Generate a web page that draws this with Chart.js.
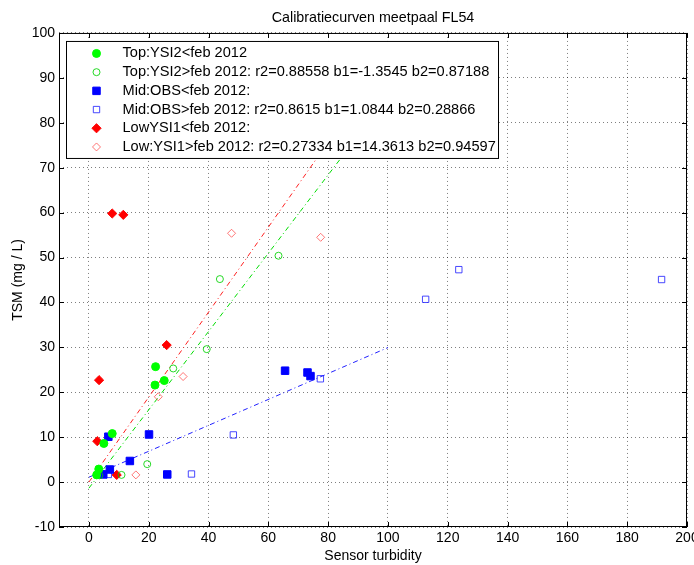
<!DOCTYPE html>
<html>
<head>
<meta charset="utf-8">
<title>Calibratiecurven meetpaal FL54</title>
<script src="https://cdn.jsdelivr.net/npm/chart.js@4/dist/chart.umd.min.js"></script>
<style>
  html, body { margin: 0; padding: 0; background: #fff; }
</style>
</head>
<body>
<canvas id="chartCal" width="694" height="565"></canvas>
<script>
// Metingen voor feb 2012 (gevuld) en na feb 2012 (open)
const topVoorX = [2.6, 3.3, 5.0, 7.8, 22.1, 22.3, 25.2];
const topVoorY = [1.6, 2.9, 8.6, 10.8, 21.6, 25.7, 22.6];
const topNaX = [3.5, 10.9, 19.5, 28.2, 39.4, 43.8, 63.4];
const topNaY = [1.5, 1.6, 4.0, 25.3, 29.6, 45.2, 50.4];

const midVoorX = [4.8, 6.5, 7.0, 13.7, 20.1, 26.2, 65.6, 73.1, 74.1];
const midVoorY = [1.7, 10.1, 2.8, 4.7, 10.6, 1.7, 24.8, 24.4, 23.6];
const midNaX = [6.5, 34.3, 48.3, 77.4, 112.6, 123.7, 191.5];
const midNaY = [1.7, 1.8, 10.5, 23.0, 40.7, 47.3, 45.1];

const lowVoorX = [2.8, 3.4, 7.8, 9.3, 11.5, 26.0];
const lowVoorY = [9.1, 22.7, 59.8, 1.6, 59.5, 30.5];
const lowNaX = [15.7, 23.2, 31.5, 47.7, 77.5];
const lowNaY = [1.6, 19.0, 23.5, 55.4, 54.5];

// Regressielijnen: [b1, b2] en bereik van de sensorwaarde
const fitTop = [-1.3545, 0.87188];
const fitMid = [1.0844, 0.28866];
const fitLow = [0.0, 0.94597];
const fitBereik = [0, 100];

// Aslabels
const xTicks = [0, 20, 40, 60, 80, 100, 120, 140, 160, 180, 200];
const yTicks = [-10, 0, 10, 20, 30, 40, 50, 60, 70, 80, 90, 100];

const legendaTeksten = [
    'Top:YSI2<feb 2012',
    'Top:YSI2>feb 2012: r2=0.88558 b1=-1.3545 b2=0.87188',
    'Mid:OBS<feb 2012:',
    'Mid:OBS>feb 2012: r2=0.8615 b1=1.0844 b2=0.28866',
    'LowYSI1<feb 2012:',
    'Low:YSI1>feb 2012: r2=0.27334 b1=14.3613 b2=0.94597'
];

const FONT = '"Liberation Sans", Arial, Helvetica, sans-serif';

const punten = (xs, ys) => xs.map((x, i) => ({ x: x, y: ys[i] }));
const lijn = c => fitBereik.map(x => ({ x: x, y: c[0] + c[1] * x }));

function reeks(label, xs, ys, stijl, kleur, r, gevuld) {
    return {
        label: label,
        data: punten(xs, ys),
        pointStyle: stijl,
        pointRadius: r,
        pointHoverRadius: r,
        pointBorderWidth: 1,
        pointBorderColor: kleur,
        pointBackgroundColor: gevuld ? kleur : 'rgba(0,0,0,0)',
        showLine: false
    };
}

function fitLijn(c, kleur) {
    return {
        label: '',
        data: lijn(c),
        showLine: true,
        pointRadius: 0,
        borderColor: kleur,
        borderWidth: 1,
        borderDash: [5, 3, 1, 3]
    };
}

// Kader, tickstreepjes en legenda met witte achtergrond
const kaderPlugin = {
    id: 'kader',
    afterDraw(chart) {
        const { ctx, chartArea: a, scales: { x, y } } = chart;
        ctx.save();
        ctx.strokeStyle = '#000';
        ctx.lineWidth = 1;
        ctx.beginPath();
        xTicks.forEach(v => {
            const px = Math.round(x.getPixelForValue(v)) + 0.5;
            ctx.moveTo(px, a.bottom); ctx.lineTo(px, a.bottom - 5);
            ctx.moveTo(px, a.top); ctx.lineTo(px, a.top + 5);
        });
        yTicks.forEach(v => {
            const py = Math.round(y.getPixelForValue(v)) + 0.5;
            ctx.moveTo(a.left, py); ctx.lineTo(a.left + 5, py);
            ctx.moveTo(a.right, py); ctx.lineTo(a.right - 5, py);
        });
        ctx.stroke();
        ctx.strokeRect(a.left + 0.5, a.top + 0.5, a.right - a.left - 1, a.bottom - a.top - 1);

        // legenda
        const lx = a.left + 7.5, ly = a.top + 8.5, lw = 432, lh = 117;
        ctx.fillStyle = '#fff';
        ctx.fillRect(lx, ly, lw, lh);
        ctx.strokeRect(lx, ly, lw, lh);
        ctx.font = '14.6px ' + FONT;
        ctx.textBaseline = 'middle';
        ctx.textAlign = 'left';
        const sets = chart.data.datasets.filter(d => d.label);
        sets.forEach((d, i) => {
            const cy = ly + 12 + i * 18.7;
            const cx = lx + 30;
            tekenMarker(ctx, d, cx, cy);
            ctx.fillStyle = '#000';
            ctx.fillText(d.label, lx + 56, cy);
        });
        ctx.restore();
    }
};

function tekenMarker(ctx, d, cx, cy) {
    const r = d.pointRadius;
    ctx.beginPath();
    if (d.pointStyle === 'circle') {
        ctx.arc(cx, cy, r, 0, Math.PI * 2);
    } else if (d.pointStyle === 'rect') {
        const s = Math.SQRT1_2 * r;
        ctx.rect(cx - s, cy - s, 2 * s, 2 * s);
    } else {
        ctx.moveTo(cx, cy - r); ctx.lineTo(cx + r, cy);
        ctx.lineTo(cx, cy + r); ctx.lineTo(cx - r, cy);
        ctx.closePath();
    }
    ctx.fillStyle = d.pointBackgroundColor;
    ctx.fill();
    ctx.strokeStyle = d.pointBorderColor;
    ctx.lineWidth = 1;
    ctx.stroke();
}

const rooster = {
    color: 'rgba(0,0,0,0.5)',
    lineWidth: 1,
    drawTicks: false
};

new Chart(document.getElementById('chartCal').getContext('2d'), {
    type: 'scatter',
    data: {
        datasets: [
            reeks(legendaTeksten[0], topVoorX, topVoorY, 'circle', '#00ff00', 4, true),
            reeks(legendaTeksten[1], topNaX, topNaY, 'circle', 'rgba(0,210,0,0.85)', 3.5, false),
            reeks(legendaTeksten[2], midVoorX, midVoorY, 'rect', '#0000ff', 5.3, true),
            reeks(legendaTeksten[3], midNaX, midNaY, 'rect', 'rgba(40,40,255,0.85)', 4.5, false),
            reeks(legendaTeksten[4], lowVoorX, lowVoorY, 'rectRot', '#ff0000', 4.6, true),
            reeks(legendaTeksten[5], lowNaX, lowNaY, 'rectRot', 'rgba(255,60,60,0.7)', 4, false),
            fitLijn(fitTop, '#00dd00'),
            fitLijn(fitMid, '#2020ff'),
            fitLijn(fitLow, '#ff2020')
        ]
    },
    options: {
        responsive: false,
        animation: false,
        layout: { padding: { left: 0, right: 7, top: 0, bottom: 0 } },
        plugins: {
            legend: { display: false },
            tooltip: { enabled: false },
            title: {
                display: true,
                fullSize: false,
                text: 'Calibratiecurven meetpaal FL54',
                color: '#000',
                font: { family: FONT, size: 14.3, weight: 'normal', lineHeight: 1.2 },
                padding: { top: 9, bottom: 6.8 }
            }
        },
        scales: {
            x: {
                type: 'linear',
                min: -10,
                max: 200,
                grid: rooster,
                border: { display: false, dash: [1, 3] },
                ticks: { color: '#000', padding: 3, maxRotation: 0, font: { family: FONT, size: 14 } },
                title: {
                    display: true,
                    text: 'Sensor turbidity',
                    color: '#000',
                    font: { family: FONT, size: 14 },
                    padding: { top: 0, bottom: 0 }
                },
                afterBuildTicks: s => { s.ticks = xTicks.map(v => ({ value: v })); },
                afterFit: s => { s.height = 38; s.paddingLeft = 0; s.paddingRight = 0; }
            },
            y: {
                type: 'linear',
                min: -10,
                max: 100,
                grid: rooster,
                border: { display: false, dash: [1, 3] },
                ticks: { color: '#000', padding: 4, font: { family: FONT, size: 14 } },
                title: {
                    display: true,
                    text: 'TSM (mg / L)',
                    color: '#000',
                    font: { family: FONT, size: 14 },
                    padding: { top: 10, bottom: 0 }
                },
                afterBuildTicks: s => { s.ticks = yTicks.map(v => ({ value: v })); },
                afterFit: s => { s.width = 59; s.paddingTop = 0; s.paddingBottom = 0; }
            }
        }
    },
    plugins: [kaderPlugin]
});
</script>
</body>
</html>
